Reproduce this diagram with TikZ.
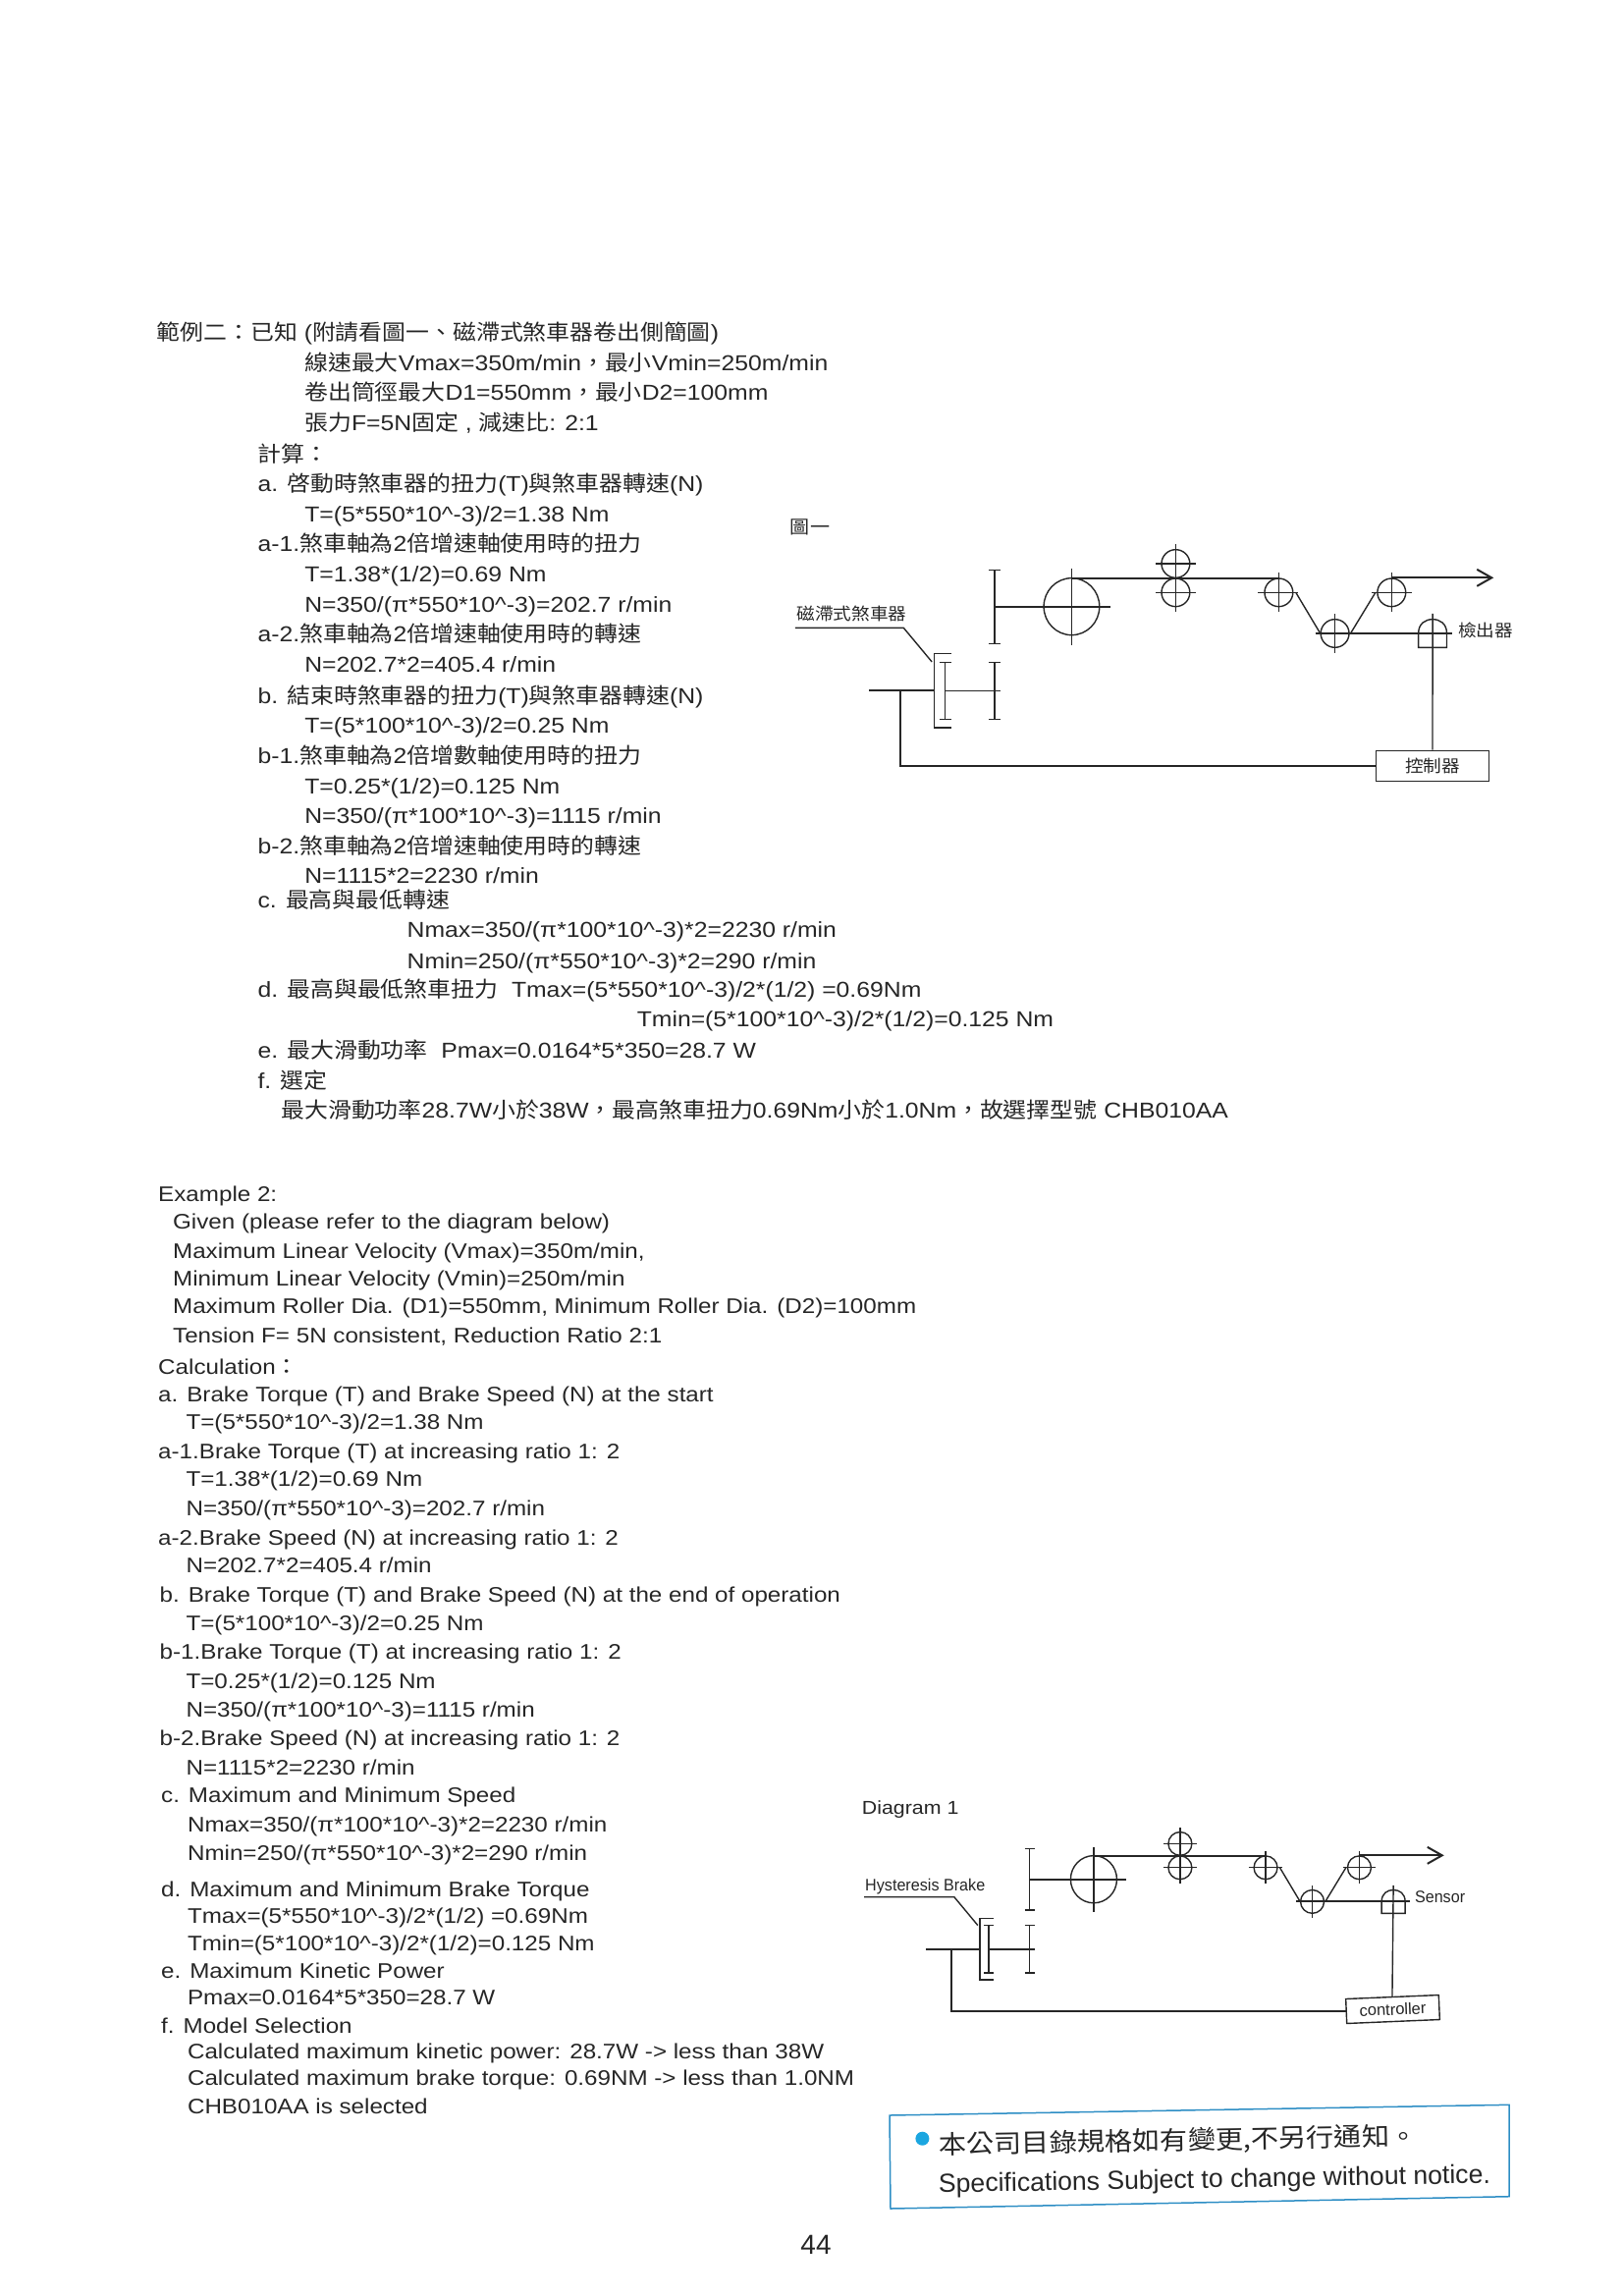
\documentclass[tikz,border=0pt]{standalone}
\usepackage{fontspec}
\setmainfont{Liberation Sans}[FakeStretch=1.125]
\newfontfamily\cjkfont[FakeStretch=1.085]{Noto Sans CJK TC}
\newfontfamily\plainfont{Liberation Sans}
\newfontfamily\narrowfont[FakeStretch=0.95]{Liberation Sans}
\newcommand{\zh}[1]{{\cjkfont #1}}
\newcommand{\up}{\textasciicircum}
\usetikzlibrary{arrows.meta}
\definecolor{inkgrey}{HTML}{262626}
\definecolor{noteblue}{HTML}{2C8DC4}
\definecolor{dotblue}{HTML}{1BA6E0}
\tikzset{txt/.style = {anchor=base west, inner sep=0pt, yshift=-8pt, text=inkgrey, font=\fontsize{22}{24}\selectfont},
         entxt/.style = {txt, font=\fontsize{21.5}{24}\selectfont},
         lbl/.style = {inner sep=0pt, text=inkgrey, font=\cjkfont\fontsize{17.2}{20}\selectfont},
         ctrl/.style = {draw=inkgrey, line width=1.4pt, rectangle, inner sep=0pt},
         wire/.style = {draw=inkgrey, line width=1.4pt},
         shaft/.style = {draw=inkgrey, line width=2pt},
         winderpic/.pic = {
            % tension rollers and web
            \draw[wire](626,353)circle[x radius=57,y radius=87];
            \draw[wire](626,236)--(626,472);
            \draw[shaft](468,353)--(705,353);
            \draw[wire](839,222)circle[x radius=29,y radius=43];
            \draw[wire](839,310)circle[x radius=29,y radius=43];
            \draw[wire](839,162)--(839,370);
            \draw[wire](798,222)--(880,222);
            \draw[wire](798,310)--(880,310);
            \draw[wire](1050,310)circle[x radius=29,y radius=43];
            \draw[wire](1050,248)--(1050,370);
            \draw[wire](1008,310)--(1090,310);
            \draw[wire](1165,435)circle[x radius=29,y radius=43];
            \draw[wire](1165,375)--(1165,495);
            \draw[wire](1281,310)circle[x radius=29,y radius=43];
            \draw[wire](1281,248)--(1281,370);
            \draw[wire](1240,310)--(1322,310);
            \draw[shaft](626,267)--(1052,267);
            \draw[wire](1085,310)--(1135,435);
            \draw[wire](1197,435)--(1248,310);
            \draw[shaft,->](1281,265)--(1490,265);
            \draw[shaft](1125,435)--(1405,435);
            % sensor
            \draw[wire](1336,478)--(1336,435)..controls(1336,405)and(1350,392)..(1365,392)
                ..controls(1380,392)and(1394,405)..(1394,435)--(1394,478)--cycle;
            % gears
            \draw[wire](456,241)--(480,241);
            \draw[wire](468,241)--(468,466);
            \draw[wire](456,466)--(480,466);
            \draw[wire](456,523)--(480,523);
            \draw[wire](468,523)--(468,697);
            \draw[wire](456,697)--(480,697);
            \draw[shaft](212,610)--(345,610);
            \draw[wire](367,610)--(480,610);
            % brake
            \draw[wire](380,497)--(345,497)--(345,723)--(380,723);
            \draw[wire](355,523)--(380,523);
            \draw[wire](367,523)--(367,697);
            \draw[wire](355,697)--(380,697);
            \draw[wire](60,418)--(282,418)--(340,522);
            \coordinate(-tap)at(275,610);
            \coordinate(-sensor)at(1365,375);
         }}
\begin{document}
\begin{tikzpicture}[x=1.491pt,y=-1.491pt,>={Straight Barb[length=15pt,width=17pt]}]
\useasboundingbox(0,0)rectangle(1653pt,-2338pt);
% chinese part
\node[txt](z1)at(107,227){\zh{範例二：已知} (\zh{附請看圖一、磁滯式煞車器卷出側簡圖})};
\node[txt](z2)at(208,247.5){\zh{線速最大}Vmax=350m/min\zh{，最小}Vmin=250m/min};
\node[txt](z3)at(208,268){\zh{卷出筒徑最大}D1=550mm\zh{，最小}D2=100mm};
\node[txt](z4)at(208,289){\zh{張力}F=5N\zh{固定} , \zh{減速比}: 2:1};
\node[txt](z5)at(176,310){\zh{計算：}};
\node[txt](z6)at(176,330){a. \zh{啓動時煞車器的扭力}(T)\zh{與煞車器轉速}(N)};
\node[txt](z7)at(208,351){T=(5*550*10\up-3)/2=1.38 Nm};
\node[txt](z8)at(176,371){a-1.\zh{煞車軸為}2\zh{倍增速軸使用時的扭力}};
\node[txt](z9)at(208,392){T=1.38*(1/2)=0.69 Nm};
\node[txt](z10)at(208,413){N=350/(π*550*10\up-3)=202.7 r/min};
\node[txt](z11)at(176,433){a-2.\zh{煞車軸為}2\zh{倍增速軸使用時的轉速}};
\node[txt](z12)at(208,454){N=202.7*2=405.4 r/min};
\node[txt](z13)at(176,475){b. \zh{結束時煞車器的扭力}(T)\zh{與煞車器轉速}(N)};
\node[txt](z14)at(208,495){T=(5*100*10\up-3)/2=0.25 Nm};
\node[txt](z15)at(176,516){b-1.\zh{煞車軸為}2\zh{倍增數軸使用時的扭力}};
\node[txt](z16)at(208,537){T=0.25*(1/2)=0.125 Nm};
\node[txt](z17)at(208,557){N=350/(π*100*10\up-3)=1115 r/min};
\node[txt](z18)at(176,578){b-2.\zh{煞車軸為}2\zh{倍增速軸使用時的轉速}};
\node[txt](z19)at(208,598){N=1115*2=2230 r/min};
\node[txt](z20)at(176,615){c. \zh{最高與最低轉速}};
\node[txt](z21)at(278,635){Nmax=350/(π*100*10\up-3)*2=2230 r/min};
\node[txt](z22)at(278,656){Nmin=250/(π*550*10\up-3)*2=290 r/min};
\node[txt](z23)at(176,676){d. \zh{最高與最低煞車扭力}\ \ Tmax=(5*550*10\up-3)/2*(1/2) =0.69Nm};
\node[txt](z24)at(435,696){Tmin=(5*100*10\up-3)/2*(1/2)=0.125 Nm};
\node[txt](z25)at(176,717){e. \zh{最大滑動功率}\ \ Pmax=0.0164*5*350=28.7 W};
\node[txt](z26)at(176,738){f. \zh{選定}};
\node[txt](z27)at(192,758){\zh{最大滑動功率}28.7W\zh{小於}38W\zh{，最高煞車扭力}0.69Nm\zh{小於}1.0Nm\zh{，故選擇型號} CHB010AA};
% english part
\node[entxt](e1)at(108,815){Example 2:};
\node[entxt](e2)at(118,834){Given (please refer to the diagram below)};
\node[entxt](e3)at(118,854){Maximum Linear Velocity (Vmax)=350m/min,};
\node[entxt](e4)at(118,873){Minimum Linear Velocity (Vmin)=250m/min};
\node[entxt](e5)at(118,892){Maximum Roller Dia. (D1)=550mm, Minimum Roller Dia. (D2)=100mm};
\node[entxt](e6)at(118,912){Tension F= 5N consistent, Reduction Ratio 2:1};
\node[entxt](e7)at(108,933){Calculation\zh{：}};
\node[entxt](e8)at(108,952){a. Brake Torque (T) and Brake Speed (N) at the start};
\node[entxt](e9)at(127,971){T=(5*550*10\up-3)/2=1.38 Nm};
\node[entxt](e10)at(108,991){a-1.Brake Torque (T) at increasing ratio 1: 2};
\node[entxt](e11)at(127,1010){T=1.38*(1/2)=0.69 Nm};
\node[entxt](e12)at(127,1030){N=350/(π*550*10\up-3)=202.7 r/min};
\node[entxt](e13)at(108,1050){a-2.Brake Speed (N) at increasing ratio 1: 2};
\node[entxt](e14)at(127,1069){N=202.7*2=405.4 r/min};
\node[entxt](e15)at(109,1089){b. Brake Torque (T) and Brake Speed (N) at the end of operation};
\node[entxt](e16)at(127,1108){T=(5*100*10\up-3)/2=0.25 Nm};
\node[entxt](e17)at(109,1128){b-1.Brake Torque (T) at increasing ratio 1: 2};
\node[entxt](e18)at(127,1148){T=0.25*(1/2)=0.125 Nm};
\node[entxt](e19)at(127,1167){N=350/(π*100*10\up-3)=1115 r/min};
\node[entxt](e20)at(109,1187){b-2.Brake Speed (N) at increasing ratio 1: 2};
\node[entxt](e21)at(127,1207){N=1115*2=2230 r/min};
\node[entxt](e22)at(110,1226){c. Maximum and Minimum Speed};
\node[entxt](e23)at(128,1246){Nmax=350/(π*100*10\up-3)*2=2230 r/min};
\node[entxt](e24)at(128,1265){Nmin=250/(π*550*10\up-3)*2=290 r/min};
\node[entxt](e25)at(110,1290){d. Maximum and Minimum Brake Torque};
\node[entxt](e26)at(128,1308){Tmax=(5*550*10\up-3)/2*(1/2) =0.69Nm};
\node[entxt](e27)at(128,1327){Tmin=(5*100*10\up-3)/2*(1/2)=0.125 Nm};
\node[entxt](e28)at(110,1346){e. Maximum Kinetic Power};
\node[entxt](e29)at(128,1364){Pmax=0.0164*5*350=28.7 W};
\node[entxt](e30)at(110,1383){f. Model Selection};
\node[entxt](e31)at(128,1401){Calculated maximum kinetic power: 28.7W -> less than 38W};
\node[entxt](e32)at(128,1419){Calculated maximum brake torque: 0.69NM -> less than 1.0NM};
\node[entxt](e33)at(128,1438){CHB010AA is selected};
\begin{scope}[x=1pt,y=-1pt]
    % upper diagram
    \pic[xscale=.4975,yscale=.3333](top)at(780,500){winderpic};
    \node[lbl,font=\cjkfont\fontsize{18.5}{20}\selectfont](figzh)at(825,537){圖一};
    \node[lbl](brakezh)at(867.5,625){磁滯式煞車器};
    \node[lbl](sensorzh)at(1513,642){檢出器};
    \node[ctrl,lbl,draw=inkgrey,minimum width=115pt,minimum height=31.3pt](ctrlzh)at(1459,780){控制器};
    \draw[wire](top-sensor)--(ctrlzh.north);
    \draw[wire](ctrlzh.west)-|(top-tap);
    % lower diagram
    \pic[xscale=.413,yscale=.277](low)at(855.4,1815.9){winderpic};
    \node[lbl,font=\normalfont\fontsize{19}{20}\selectfont,anchor=base west](figen)at(877.7,1847.7){Diagram 1};
    \node[lbl,font=\narrowfont\fontsize{17}{20}\selectfont,anchor=base west](brakeen)at(881,1925){Hysteresis Brake};
    \node[lbl,font=\narrowfont\fontsize{17}{20}\selectfont,anchor=base west](sensoren)at(1440.8,1937){Sensor};
    \node[ctrl,lbl,draw=inkgrey,font=\plainfont\fontsize{16.5}{20}\selectfont,rotate=2.4,minimum width=94.7pt,minimum height=25pt](ctrlen)at(1418.5,2046){controller};
    \draw[wire](low-sensor)--(ctrlen.north);
    \draw[wire](ctrlen.west)-|(low-tap);
    % notice box and page number
    \draw[draw=noteblue,line width=1.5pt](906,2154)--(1537,2143.3)--(1537,2236.7)--(907,2249)--cycle;
    \node[circle,fill=dotblue,inner sep=0pt,minimum size=14pt](dot)at(939.4,2177.7){};
    \node[txt,yshift=8pt,rotate=1,font=\cjkfont\fontsize{26}{28}\selectfont](notezh)at(956,2193){本公司目錄規格如有變更,不另行通知。};
    \node[txt,yshift=8pt,rotate=1,font=\plainfont\fontsize{26.6}{28}\selectfont](noteen)at(956,2232.7){Specifications Subject to change without notice.};
    \node[inner sep=0pt,text=inkgrey,font=\plainfont\fontsize{28}{30}\selectfont](pageno)at(831,2286){44};
\end{scope}
\end{tikzpicture}
\end{document}
